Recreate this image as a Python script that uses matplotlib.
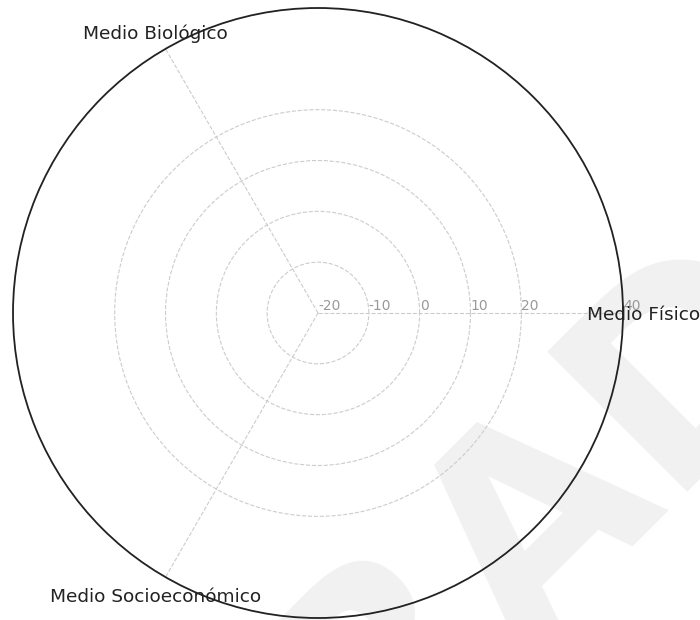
import numpy as np
import matplotlib
matplotlib.use('Agg')
import matplotlib.pyplot as plt

# Categorias del radar
categorias = ['Medio Físico', 'Medio Biológico', 'Medio Socioeconómico']
r_ticks = [-20, -10, 0, 10, 20, 40]
r_min, r_max = -20, 40

angulos = np.linspace(0, 2 * np.pi, len(categorias), endpoint=False)

fig = plt.figure(figsize=(7, 6.2), dpi=100)
ax = fig.add_axes([13 / 700, 2 / 620, 610 / 700, 610 / 620], projection='polar')
ax.set_facecolor('none')

# Marca de agua
fig.text(0.67, 0.065, 'BORRADOR', fontsize=195, fontweight='bold', color='#f1f1f1',
         rotation=45, ha='center', va='center', zorder=-1)

ax.set_ylim(r_min, r_max)
ax.set_xticks(angulos)
ax.set_xticklabels([])
ax.set_yticks(r_ticks)
ax.set_yticklabels([str(t) for t in r_ticks], color='#999999', fontsize=10)
ax.set_rlabel_position(0)
ax.grid(True, color='#cccccc', linestyle='--', linewidth=0.8)
ax.spines['polar'].set_color('#222222')
ax.spines['polar'].set_linewidth(1.3)

# Etiquetas de categorias
for ang, cat in zip(angulos, categorias):
    ax.text(ang, 44.0, cat, ha='center', va='center_baseline', fontsize=13.3, color='#222222')

plt.savefig('out.png', dpi=100)
